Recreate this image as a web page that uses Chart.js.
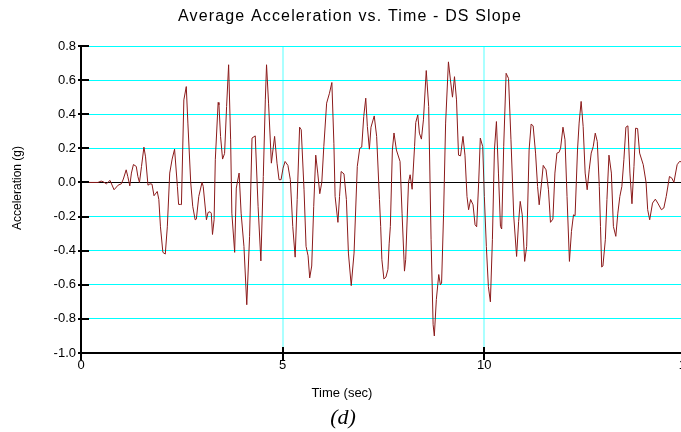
<!DOCTYPE html>
<html>
<head>
<meta charset="utf-8">
<title>Average Acceleration vs. Time - DS Slope</title>
<script src="https://cdn.jsdelivr.net/npm/chart.js@4.4.1/dist/chart.umd.min.js"></script>
<style>
  html, body { margin: 0; padding: 0; background: #fff; overflow: hidden; }
  #wrap { width: 681px; height: 432px; overflow: hidden; }
</style>
</head>
<body>
<div id="wrap"><canvas id="chart" width="700" height="432"></canvas></div>
<script>
// values (time in sec, acceleration in g)
const times = [
    0.00, 0.42, 0.50, 0.55, 0.63, 0.72, 0.82, 0.92, 1.00, 1.05, 1.12, 1.16, 1.21, 1.25, 1.30, 1.37, 1.41, 1.45, 1.50, 1.56,
    1.60, 1.66, 1.71, 1.76, 1.81, 1.89, 1.93, 1.97, 2.03, 2.09, 2.14, 2.20, 2.26, 2.32, 2.39, 2.42, 2.47, 2.49, 2.55, 2.61,
    2.65, 2.72, 2.77, 2.83, 2.86, 2.92, 3.00, 3.03, 3.11, 3.15, 3.20, 3.23, 3.26, 3.30, 3.33, 3.40, 3.42, 3.46, 3.51, 3.56,
    3.61, 3.66, 3.71, 3.74, 3.81, 3.85, 3.92, 3.97, 4.04, 4.11, 4.18, 4.24, 4.32, 4.39, 4.46, 4.52, 4.57, 4.60, 4.65, 4.72,
    4.80, 4.86, 4.91, 4.96, 5.01, 5.06, 5.13, 5.19, 5.25, 5.31, 5.36, 5.42, 5.46, 5.53, 5.58, 5.63, 5.67, 5.72, 5.77, 5.82,
    5.87, 5.92, 5.97, 6.02, 6.09, 6.16, 6.22, 6.27, 6.30, 6.37, 6.41, 6.45, 6.52, 6.58, 6.63, 6.70, 6.77, 6.85, 6.91, 6.96,
    7.01, 7.06, 7.10, 7.15, 7.19, 7.27, 7.33, 7.40, 7.43, 7.46, 7.51, 7.56, 7.61, 7.64, 7.67, 7.72, 7.76, 7.82, 7.91, 7.96,
    8.02, 8.05, 8.12, 8.16, 8.21, 8.27, 8.30, 8.35, 8.39, 8.44, 8.49, 8.56, 8.62, 8.68, 8.73, 8.76, 8.81, 8.87, 8.91, 8.94,
    8.99, 9.04, 9.11, 9.16, 9.21, 9.26, 9.31, 9.36, 9.41, 9.47, 9.52, 9.57, 9.61, 9.66, 9.72, 9.77, 9.81, 9.86, 9.90, 9.96,
    10.00, 10.05, 10.10, 10.15, 10.20, 10.25, 10.30, 10.35, 10.40, 10.43, 10.48, 10.54, 10.60, 10.66, 10.73, 10.80, 10.85, 10.89, 10.94, 11.00,
    11.05, 11.11, 11.16, 11.21, 11.27, 11.32, 11.36, 11.42, 11.46, 11.53, 11.59, 11.64, 11.70, 11.75, 11.80, 11.85, 11.89, 11.95, 12.00, 12.05,
    12.11, 12.16, 12.21, 12.25, 12.31, 12.35, 12.40, 12.45, 12.50, 12.55, 12.60, 12.65, 12.70, 12.75, 12.80, 12.85, 12.88, 12.91, 12.94, 13.00,
    13.04, 13.09, 13.15, 13.20, 13.26, 13.31, 13.36, 13.41, 13.46, 13.51, 13.56, 13.61, 13.66, 13.71, 13.75, 13.80, 13.85, 13.94, 14.01, 14.05,
    14.10, 14.17, 14.24, 14.30, 14.39, 14.45, 14.51, 14.59, 14.65, 14.70, 14.78, 14.84, 14.90
];
const accel = [
    0.000, 0.000, 0.008, 0.004, -0.008, 0.012, -0.043, -0.016, -0.008, 0.020, 0.074, 0.035, -0.020, 0.055, 0.105, 0.094, 0.035, 0.000, 0.094, 0.207,
    0.150, -0.016, -0.008, -0.010, -0.078, -0.053, -0.100, -0.260, -0.410, -0.420, -0.260, 0.055, 0.137, 0.195, -0.023, -0.129, -0.129, -0.130, 0.484, 0.562,
    0.348, 0.000, -0.140, -0.219, -0.215, -0.082, 0.000, -0.023, -0.219, -0.176, -0.172, -0.180, -0.305, -0.219, 0.133, 0.469, 0.455, 0.270, 0.137, 0.170,
    0.445, 0.690, 0.250, -0.180, -0.410, -0.033, 0.055, -0.180, -0.375, -0.717, -0.316, 0.260, 0.273, -0.140, -0.460, 0.035, 0.484, 0.690, 0.465, 0.113,
    0.270, 0.113, 0.016, 0.016, 0.084, 0.123, 0.100, 0.016, -0.258, -0.438, -0.100, 0.324, 0.309, -0.043, -0.375, -0.430, -0.560, -0.490, -0.140, 0.160,
    0.055, -0.066, 0.000, 0.210, 0.465, 0.523, 0.586, 0.230, -0.082, -0.234, -0.082, 0.064, 0.050, -0.100, -0.414, -0.605, -0.414, 0.094, 0.200, 0.207,
    0.387, 0.494, 0.328, 0.195, 0.324, 0.390, 0.270, -0.100, -0.258, -0.453, -0.566, -0.555, -0.510, -0.360, -0.258, 0.190, 0.290, 0.190, 0.123, -0.180,
    -0.520, -0.453, 0.000, 0.045, -0.040, 0.210, 0.352, 0.396, 0.289, 0.254, 0.367, 0.656, 0.445, -0.336, -0.834, -0.900, -0.687, -0.540, -0.600, -0.590,
    -0.180, 0.348, 0.707, 0.600, 0.500, 0.620, 0.484, 0.160, 0.156, 0.270, 0.160, -0.082, -0.160, -0.100, -0.131, -0.248, -0.260, 0.000, 0.260, 0.210,
    -0.082, -0.375, -0.610, -0.700, -0.336, 0.190, 0.357, 0.055, -0.258, -0.273, 0.210, 0.640, 0.610, 0.250, -0.200, -0.434, -0.230, -0.111, -0.190, -0.463,
    -0.375, 0.190, 0.342, 0.332, 0.172, -0.023, -0.131, 0.000, 0.100, 0.074, -0.043, -0.234, -0.215, 0.055, 0.172, 0.176, 0.200, 0.324, 0.250, -0.082,
    -0.463, -0.287, -0.190, -0.195, 0.190, 0.348, 0.475, 0.328, 0.055, -0.043, 0.074, 0.172, 0.210, 0.289, 0.240, -0.023, -0.258, -0.496, -0.490, -0.336,
    -0.100, 0.160, 0.055, -0.258, -0.316, -0.180, -0.082, -0.023, 0.133, 0.324, 0.332, 0.055, -0.125, 0.094, 0.318, 0.316, 0.172, 0.104, 0.000, -0.160,
    -0.219, -0.121, -0.098, -0.121, -0.160, -0.150, -0.082, 0.035, 0.025, 0.000, 0.104, 0.123, 0.120
];
const yTicks = [-1.0, -0.8, -0.6, -0.4, -0.2, 0.0, 0.2, 0.4, 0.6, 0.8];
const xTicks = [0, 5, 10, 15];

const titleText = 'Average Acceleration vs. Time - DS Slope';
const sans = '"Liberation Sans", Arial, Helvetica, sans-serif';

// title (letter-spaced), short black tick marks across both axes, axis titles
const axisExtras = {
    id: 'axisExtras',
    afterDraw(chart) {
        const { ctx, scales: { x, y } } = chart;
        ctx.save();
        ctx.strokeStyle = '#000';
        ctx.lineWidth = 2;
        ctx.beginPath();
        y.ticks.forEach(t => {
            const py = Math.round(y.getPixelForValue(t.value));
            ctx.moveTo(x.left - 3, py);
            ctx.lineTo(x.left + 8, py);
        });
        x.ticks.forEach(t => {
            const px = Math.round(x.getPixelForValue(t.value));
            ctx.moveTo(px, y.bottom - 6);
            ctx.lineTo(px, y.bottom + 7);
        });
        ctx.stroke();

        ctx.fillStyle = '#000';
        ctx.textAlign = 'center';
        ctx.textBaseline = 'middle';

        ctx.font = '16px ' + sans;
        ctx.letterSpacing = '1.15px';
        ctx.fillText(titleText, 350, 17);
        ctx.letterSpacing = '0px';

        ctx.font = '13px ' + sans;
        ctx.fillText('Time (sec)', 342, 393);
        ctx.translate(18, 188);
        ctx.rotate(-Math.PI / 2);
        ctx.font = '12px ' + sans;
        ctx.fillText('Acceleration (g)', 0, 0);
        ctx.restore();
    }
};

new Chart(document.getElementById('chart'), {
    type: 'line',
    data: {
        datasets: [{
            data: times.map((t, i) => ({ x: t, y: accel[i] })),
            borderColor: '#8b1a1a',
            borderWidth: 1,
            pointRadius: 0,
            tension: 0,
            fill: false
        }]
    },
    options: {
        responsive: false,
        animation: false,
        devicePixelRatio: 1,
        layout: { padding: { left: 0, right: 14, top: 46, bottom: 0 } },
        plugins: {
            legend: { display: false },
            tooltip: { enabled: false },
            title: { display: false },
            subtitle: {
                display: true,
                position: 'bottom',
                text: '(d)',
                color: '#000',
                font: { family: '"Liberation Serif", "Times New Roman", serif', size: 22, style: 'italic', weight: 'normal' },
                padding: { top: 0, bottom: 1 }
            }
        },
        scales: {
            x: {
                type: 'linear',
                min: 0,
                max: 15,
                afterBuildTicks: s => { s.ticks = xTicks.map(v => ({ value: v })); },
                afterFit: s => { s.height = 51.6; },
                grid: {
                    color: c => (c.tick && c.tick.value === 0) ? 'rgba(0,0,0,0)' : '#aaffff',
                    lineWidth: 2,
                    drawTicks: false
                },
                border: { color: '#000', width: 2 },
                ticks: { color: '#000', font: { family: sans, size: 13 }, padding: 5, maxRotation: 0 }
            },
            y: {
                min: -1.0,
                max: 0.8,
                afterBuildTicks: s => { s.ticks = yTicks.map(v => ({ value: v })); },
                afterFit: s => { s.width = 81; },
                grid: {
                    color: c => (c.tick && Math.abs(c.tick.value) < 1e-9) ? '#000' : '#00ffff',
                    lineWidth: 1,
                    drawTicks: false
                },
                border: { color: '#000', width: 2 },
                ticks: {
                    color: '#000',
                    font: { family: sans, size: 13 },
                    padding: 5,
                    callback: v => Number(v).toFixed(1)
                }
            }
        }
    },
    plugins: [axisExtras]
});
</script>
</body>
</html>
